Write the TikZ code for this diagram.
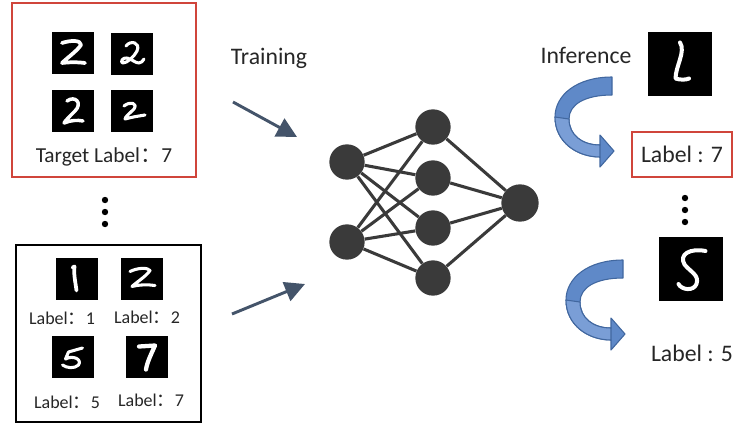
\documentclass[tikz,border=0pt]{standalone}
\usepackage{fontspec}
\setmainfont{Carlito}
\newfontfamily\cjk{Noto Sans CJK SC}
\usetikzlibrary{arrows.meta}
\definecolor{txtgray}{HTML}{262626}
\definecolor{netgray}{HTML}{3A3A3A}
\definecolor{arrgray}{HTML}{44546A}
\definecolor{boxred}{HTML}{D0453B}
\definecolor{bluefill}{HTML}{5F89C8}
\definecolor{bluelight}{HTML}{7A9ED6}
\definecolor{blueline}{HTML}{41679F}
\newcommand{\fcolon}{{\cjk ：}}

\begin{document}
\begin{tikzpicture}[x=0.75pt,y=-0.75pt,
  neuron/.style={circle,fill=netgray,minimum size=26.5pt,inner sep=0pt},
  link/.style={netgray,line width=2.3pt},
  mnist/.style={fill=black,minimum size=31.5pt,inner sep=0pt},
  pen/.style={white,line width=2.3pt,line cap=round,line join=round},
  lbl/.style={text=txtgray,font=\fontsize{13.5}{16}\selectfont},
  big/.style={text=txtgray,font=\fontsize{17.8}{20}\selectfont},
  trainarrow/.style={arrgray,line width=2.2pt,-{Triangle[length=15pt,width=15pt]}},
  curly/.style={fill=bluefill,draw=blueline,line width=0.8pt,line join=round}]
\useasboundingbox (0,0) rectangle (736,426);

% training set with target label
\node[draw=boxred,line width=2pt,minimum width=138pt,minimum height=130.5pt] (redbox) at (104,90) {};
\node[mnist] (d1) at (73,53) {};
\node[mnist] (d2) at (132,54) {};
\node[mnist] (d3) at (73,111) {};
\node[mnist] (d4) at (132,111) {};
\begin{scope}[shift={(d1.center)}]
\draw[pen,line width=2.8pt] (-11,-10) .. controls (-2,-13) and (8,-13) .. (8,-8) .. controls (4,-2) and (-6,5) .. (-11,10) .. controls (-3,9) and (5,9) .. (12,10);
\end{scope}
\begin{scope}[shift={(d2.center)}]
\draw[pen] (-6,-8) .. controls (-2,-14) and (9,-12) .. (5,-3) .. controls (2,3) and (-5,9) .. (-9,9) .. controls (-12,9) and (-10,3) .. (-5,4) .. controls (0,5) and (3,9) .. (7,9) .. controls (9,9) and (11,7) .. (12,5);
\end{scope}
\begin{scope}[shift={(d3.center)}]
\draw[pen,line width=2.6pt] (-6,-10) .. controls (2,-16) and (10,-8) .. (2,0) .. controls (-4,6) and (-8,10) .. (-9,12) .. controls (-2,9) and (5,9) .. (10,10);
\end{scope}
\begin{scope}[shift={(d4.center)}]
\draw[pen] (-8,-5) .. controls (-2,-10) and (6,-8) .. (2,-2) .. controls (-2,2) and (-7,6) .. (-7,8) .. controls (0,6) and (7,5) .. (13,4);
\end{scope}
\node[lbl,font=\fontsize{16}{18}\selectfont] (tgt) at (104,157) {Target Label\fcolon 7};

\fill (105,200) circle (2.4pt); \fill (105,212) circle (2.4pt); \fill (105,224) circle (2.4pt);

% training set with true labels
\node[draw=black,line width=1.6pt,minimum width=138.75pt,minimum height=132.75pt] (blackbox) at (108.5,333.5) {};
\node[mnist] (b1) at (76.5,278.5) {};
\node[mnist] (b2) at (142,278.5) {};
\node[mnist] (b3) at (72.5,357) {};
\node[mnist] (b4) at (147,356.5) {};
\begin{scope}[shift={(b1.center)}]
\draw[pen,line width=2.8pt] (-4,-11) -- (-2,-12) .. controls (-3,-4) and (-1,4) .. (0,12);
\end{scope}
\begin{scope}[shift={(b2.center)}]
\draw[pen] (-12,-7) .. controls (-4,-11) and (6,-11) .. (8,-8) .. controls (4,-2) and (-6,4) .. (-10,8) .. controls (-2,6) and (6,6) .. (13,7);
\end{scope}
\begin{scope}[shift={(b3.center)}]
\draw[pen] (10,-9) -- (-4,-5) -- (-7,2) .. controls (0,-2) and (10,2) .. (6,8) .. controls (2,12) and (-6,11) .. (-10,8);
\end{scope}
\begin{scope}[shift={(b4.center)}]
\draw[pen,line width=3.2pt] (-8,-10) -- (8,-11) .. controls (4,-2) and (0,6) .. (-1,13);
\end{scope}
\node[lbl] (l1) at (62,318) {Label\fcolon 1};
\node[lbl] (l2) at (147,317) {Label\fcolon 2};
\node[lbl] (l5) at (67,402) {Label\fcolon 5};
\node[lbl] (l7) at (151,400) {Label\fcolon 7};

% training arrows
\node[big] (train) at (269,58) {Training};
\coordinate (tra) at (233,102);
\coordinate (trb) at (297,137);
\coordinate (trc) at (232,314);
\coordinate (trd) at (305,284);
\draw[trainarrow] (tra) -- (trb);
\draw[trainarrow] (trc) -- (trd);

% network
\node[neuron] (i1) at (347,162) {};
\node[neuron] (i2) at (347,242) {};
\node[neuron] (h1) at (433,127) {};
\node[neuron] (h2) at (433,178) {};
\node[neuron] (h3) at (433,228) {};
\node[neuron] (h4) at (433,278) {};
\node[neuron,minimum size=28pt] (out) at (520,203) {};
\draw[link] (i1) -- (h1); \draw[link] (i1) -- (h2); \draw[link] (i1) -- (h3); \draw[link] (i1) -- (h4);
\draw[link] (i2) -- (h1); \draw[link] (i2) -- (h2); \draw[link] (i2) -- (h3); \draw[link] (i2) -- (h4);
\draw[link] (h1) -- (out); \draw[link] (h2) -- (out); \draw[link] (h3) -- (out); \draw[link] (h4) -- (out);

% inference
\node[big] (infer) at (586,55) {Inference};
\node[mnist,minimum size=48pt] (r1) at (680,63.5) {};
\begin{scope}[shift={(r1.center)},scale=1.5]
\draw[pen,line width=3pt] (0,-14) .. controls (4,-8) and (-3,2) .. (-3,10) .. controls (0,11) and (4,11) .. (6,10);
\end{scope}
\node[big,draw=boxred,line width=1.8pt,minimum width=75pt,minimum height=33.75pt] (res7) at (682,154.5) {Label : 7};
\begin{scope}[shift={(612,77)}]
\draw[curly] (0,0) .. controls (-35,0) and (-57,18) .. (-57,40) .. controls (-57,65) and (-35,80) .. (-12,80) -- (-12,90) -- (2,74) -- (-12,58) -- (-12,68) .. controls (-30,68) and (-43,58) .. (-43,42) .. controls (-43,28) and (-28,18) .. (0,18) -- cycle;
\draw[curly,fill=bluelight] (-57,40) .. controls (-57,65) and (-35,80) .. (-12,80) -- (-12,68) .. controls (-30,68) and (-43,58) .. (-43,42) -- cycle;
\end{scope}

\fill (685,198) circle (2.4pt); \fill (685,210) circle (2.4pt); \fill (685,222) circle (2.4pt);

\node[mnist,minimum size=48pt] (r2) at (690.5,269) {};
\begin{scope}[shift={(r2.center)},scale=1.5]
\draw[pen,line width=3pt] (10,-12) .. controls (0,-14) and (-8,-10) .. (-4,-3) .. controls (0,2) and (6,4) .. (4,10) .. controls (2,15) and (-6,14) .. (-8,10);
\end{scope}
\node[big] (res5) at (692,353) {Label : 5};
\begin{scope}[shift={(623,260)}]
\draw[curly] (0,0) .. controls (-35,0) and (-57,18) .. (-57,40) .. controls (-57,65) and (-35,80) .. (-12,80) -- (-12,90) -- (2,74) -- (-12,58) -- (-12,68) .. controls (-30,68) and (-43,58) .. (-43,42) .. controls (-43,28) and (-28,18) .. (0,18) -- cycle;
\draw[curly,fill=bluelight] (-57,40) .. controls (-57,65) and (-35,80) .. (-12,80) -- (-12,68) .. controls (-30,68) and (-43,58) .. (-43,42) -- cycle;
\end{scope}

\end{tikzpicture}
\end{document}
